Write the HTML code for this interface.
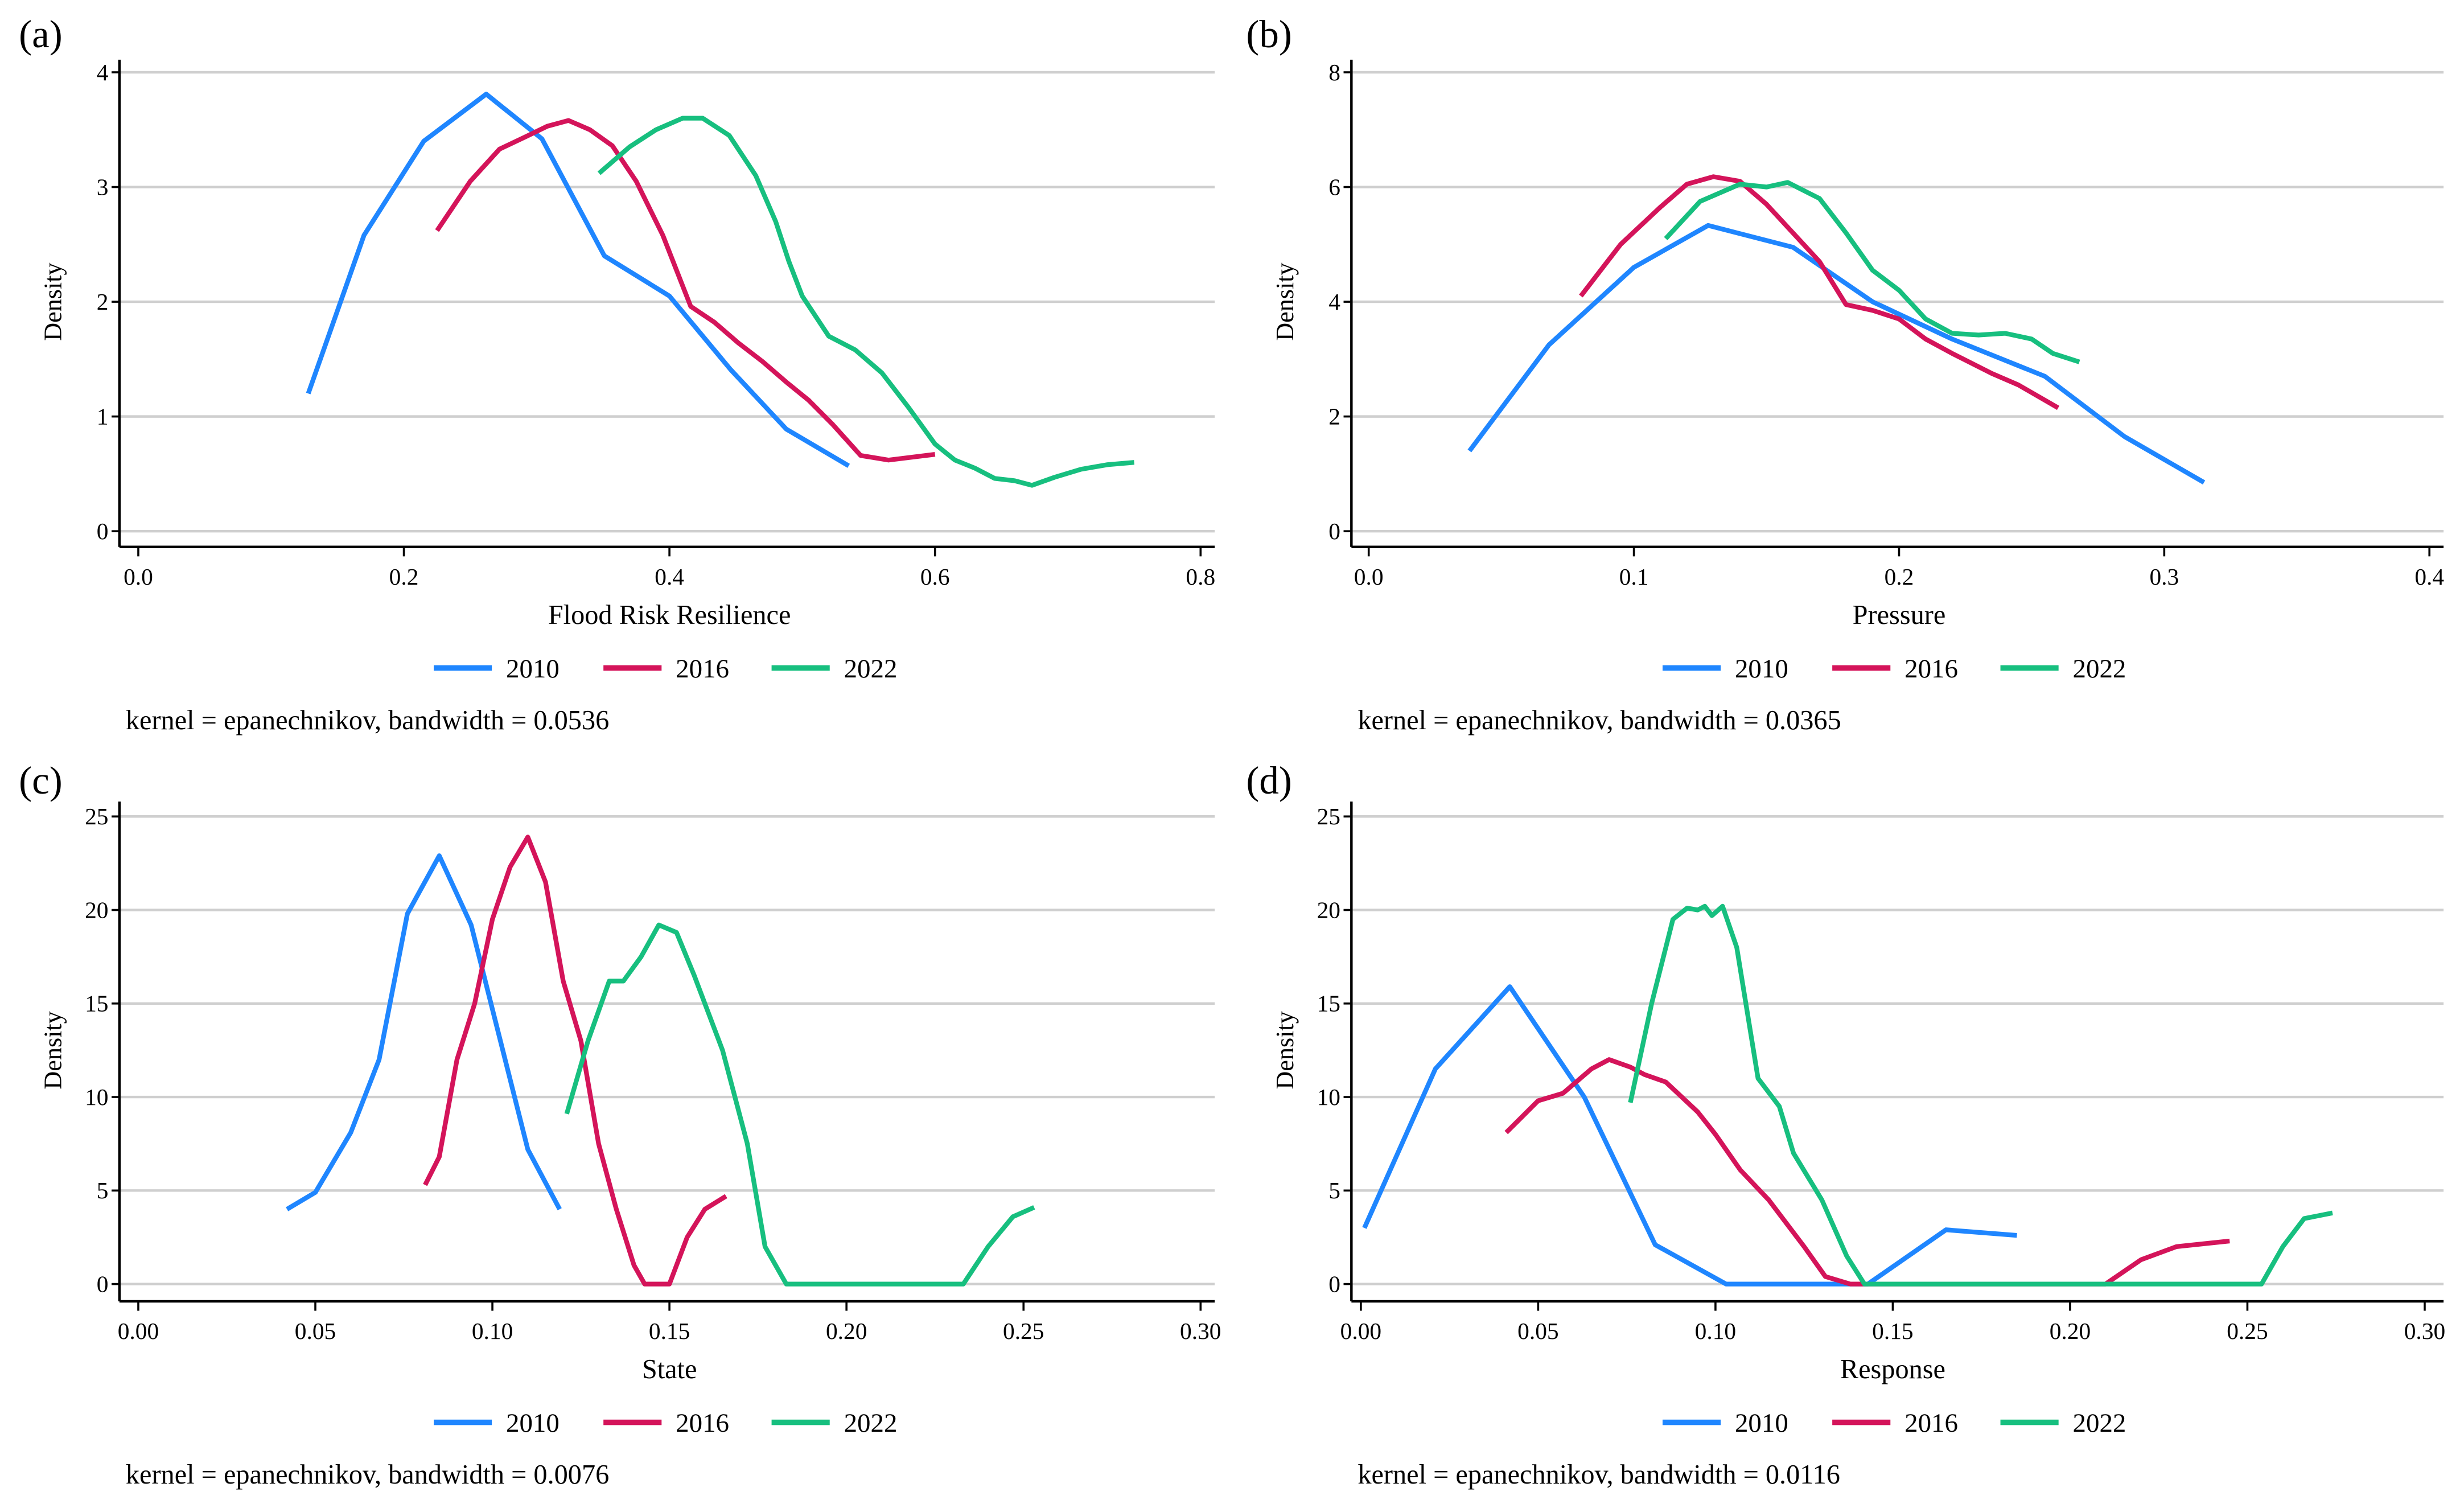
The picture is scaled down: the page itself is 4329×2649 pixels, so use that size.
<!DOCTYPE html>
<html><head><meta charset="utf-8"><style>
html,body{margin:0;padding:0;background:#fff;}
svg{display:block;font-family:"Liberation Serif",serif;}
</style></head><body>
<svg id="fig" width="4329" height="2649" viewBox="0 0 1568 959.5" xmlns="http://www.w3.org/2000/svg"></svg>
<script>
// Panel (a) data
const aX2010=[0.128,0.170,0.215,0.262,0.304,0.351,0.40,0.446,0.488,0.535];
const aY2010=[1.2,2.58,3.4,3.81,3.42,2.4,2.05,1.41,0.89,0.57];
const aX2016=[0.225,0.25,0.272,0.292,0.308,0.324,0.34,0.357,0.375,0.395,0.416,0.434,0.452,0.47,0.488,0.505,0.523,0.544,0.565,0.60];
const aY2016=[2.62,3.05,3.33,3.44,3.53,3.58,3.5,3.36,3.05,2.58,1.96,1.82,1.64,1.48,1.3,1.14,0.93,0.66,0.62,0.67];
const aX2022=[0.347,0.37,0.39,0.41,0.425,0.445,0.465,0.48,0.49,0.50,0.52,0.54,0.56,0.58,0.60,0.615,0.63,0.645,0.66,0.673,0.69,0.71,0.73,0.75];
const aY2022=[3.12,3.35,3.5,3.6,3.6,3.45,3.1,2.7,2.35,2.05,1.7,1.58,1.38,1.08,0.76,0.62,0.55,0.46,0.44,0.4,0.47,0.54,0.58,0.6];
// Panel (b) data
const bX2010=[0.038,0.068,0.10,0.128,0.16,0.19,0.22,0.255,0.285,0.315];
const bY2010=[1.4,3.25,4.6,5.33,4.95,4.0,3.35,2.7,1.65,0.85];
const bX2016=[0.08,0.095,0.11,0.12,0.13,0.14,0.15,0.16,0.17,0.18,0.19,0.20,0.21,0.22,0.235,0.245,0.26];
const bY2016=[4.1,5.0,5.65,6.05,6.18,6.1,5.7,5.2,4.7,3.95,3.85,3.7,3.35,3.1,2.75,2.55,2.15];
const bX2022=[0.112,0.125,0.14,0.15,0.158,0.17,0.18,0.19,0.20,0.21,0.22,0.23,0.24,0.25,0.258,0.268];
const bY2022=[5.1,5.75,6.05,6.0,6.08,5.8,5.2,4.55,4.2,3.7,3.45,3.42,3.45,3.35,3.1,2.95];
// Panel (c) data
const cX2010=[0.042,0.05,0.06,0.068,0.076,0.085,0.094,0.11,0.119];
const cY2010=[4.0,4.9,8.1,12,19.8,22.9,19.2,7.2,4.0];
const cX2016=[0.081,0.085,0.09,0.095,0.10,0.105,0.11,0.115,0.12,0.125,0.13,0.135,0.14,0.143,0.15,0.155,0.16,0.166];
const cY2016=[5.3,6.8,12,15,19.5,22.3,23.9,21.5,16.2,13,7.5,4,1,0,0,2.5,4,4.7];
const cX2022=[0.121,0.127,0.133,0.137,0.142,0.147,0.152,0.157,0.165,0.172,0.177,0.183,0.233,0.24,0.247,0.253];
const cY2022=[9.1,13,16.2,16.2,17.5,19.2,18.8,16.5,12.5,7.5,2,0,0,2,3.6,4.1];
// Panel (d) data
const dX2010=[0.001,0.021,0.042,0.063,0.083,0.103,0.143,0.165,0.185];
const dY2010=[3.0,11.5,15.9,10,2.1,0,0,2.9,2.6];
const dX2016=[0.041,0.05,0.057,0.065,0.07,0.076,0.08,0.086,0.095,0.10,0.107,0.115,0.125,0.131,0.138,0.21,0.22,0.23,0.245];
const dY2016=[8.1,9.8,10.2,11.5,12.0,11.6,11.2,10.8,9.2,8,6.1,4.5,2,0.4,0,0,1.3,2,2.3];
const dX2022=[0.076,0.082,0.088,0.092,0.095,0.097,0.099,0.102,0.106,0.112,0.118,0.122,0.13,0.137,0.142,0.254,0.26,0.266,0.274];
const dY2022=[9.7,15,19.5,20.1,20,20.2,19.7,20.2,18,11,9.5,7,4.5,1.5,0,0,2,3.5,3.8];
const aYTicks=["0","1","2","3","4"], aXTicks=["0.0","0.2","0.4","0.6","0.8"];
const bYTicks=["0","2","4","6","8"], bXTicks=["0.0","0.1","0.2","0.3","0.4"];
const cYTicks=["0","5","10","15","20","25"], cXTicks=["0.00","0.05","0.10","0.15","0.20","0.25","0.30"];
const dYTicks=cYTicks, dXTicks=cXTicks;
const years=["2010","2016","2022"];
const colors=["#1f86ff","#d4145a","#17bf7f"];

const NS="http://www.w3.org/2000/svg";
const svg=document.getElementById('fig');
function mk(tag,attrs,parent,text){const e=document.createElementNS(NS,tag);for(const k in attrs)e.setAttribute(k,attrs[k]);if(text!==undefined)e.textContent=text;(parent||svg).appendChild(e);return e;}

const panels=[
 {id:'a',ox:76,x0:88,x1:764,xt:aXTicks,yt:aYTicks,y0:338,y1:46,gx:773,ay:348,top:38,title:'Flood Risk Resilience',note:'kernel = epanechnikov, bandwidth = 0.0536',series:[[aX2010,aY2010],[aX2016,aY2016],[aX2022,aY2022]],lx:[276,384,491],lab:[12,30]},
 {id:'b',ox:860,x0:871,x1:1546,xt:bXTicks,yt:bYTicks,y0:338,y1:46,gx:1555,ay:348,top:38,title:'Pressure',note:'kernel = epanechnikov, bandwidth = 0.0365',series:[[bX2010,bY2010],[bX2016,bY2016],[bX2022,bY2022]],lx:[1058,1166,1273],lab:[793,30]},
 {id:'c',ox:76,x0:88,x1:764,xt:cXTicks,yt:cYTicks,y0:817,y1:519.5,gx:773,ay:828,top:510,title:'State',note:'kernel = epanechnikov, bandwidth = 0.0076',series:[[cX2010,cY2010],[cX2016,cY2016],[cX2022,cY2022]],lx:[276,384,491],lab:[12,505]},
 {id:'d',ox:860,x0:866,x1:1543,xt:dXTicks,yt:dYTicks,y0:817,y1:519.5,gx:1555,ay:828,top:510,title:'Response',note:'kernel = epanechnikov, bandwidth = 0.0116',series:[[dX2010,dY2010],[dX2016,dY2016],[dX2022,dY2022]],lx:[1058,1166,1273],lab:[793,505]}
];
panels.forEach(p=>{
 const g=mk('g',{});  
 const xmin=parseFloat(p.xt[0]), xmax=parseFloat(p.xt[p.xt.length-1]);
 const ymin=parseFloat(p.yt[0]), ymax=parseFloat(p.yt[p.yt.length-1]);
 const sx=v=>p.x0+(v-xmin)/(xmax-xmin)*(p.x1-p.x0);
 const sy=v=>p.y0+(v-ymin)/(ymax-ymin)*(p.y1-p.y0);
 const lab=mk('text',{x:p.lab[0],y:p.lab[1],'font-size':25},g,'('+p.id+')');
  
 p.yt.forEach(t=>{const y=sy(parseFloat(t));
  const gl=mk('line',{x1:p.ox,x2:p.gx,y1:y,y2:y,stroke:'#cfcfcf','stroke-width':1.6},g);
   
  mk('line',{x1:p.ox-5,x2:p.ox,y1:y,y2:y,stroke:'#000','stroke-width':1.3},g);
  const tl=mk('text',{x:p.ox-7,y:y+5,'font-size':15,'text-anchor':'end'},g,t);
   
 });
 p.xt.forEach(t=>{const x=sx(parseFloat(t));
  mk('line',{x1:x,x2:x,y1:p.ay,y2:p.ay+6,stroke:'#000','stroke-width':1.3},g);
  const tl=mk('text',{x:x,y:p.ay+24,'font-size':15,'text-anchor':'middle'},g,t);
   
 });
 const ya=mk('line',{x1:p.ox,x2:p.ox,y1:p.top,y2:p.ay,stroke:'#000','stroke-width':1.6},g);
  
 const xa=mk('line',{x1:p.ox,x2:p.gx,y1:p.ay,y2:p.ay,stroke:'#000','stroke-width':1.6},g);
  
 const yc=(p.y0+p.y1)/2;
 const yt=mk('text',{x:0,y:0,'font-size':16,'text-anchor':'middle',transform:`translate(${p.ox-37},${yc}) rotate(-90)`},g,'Density');
  
 const xt=mk('text',{x:(p.x0+p.x1)/2,y:p.ay+49,'font-size':17.5,'text-anchor':'middle'},g,p.title);
  
 p.series.forEach((s,i)=>{
  const d=s[0].map((v,k)=>(k?'L':'M')+sx(v).toFixed(2)+','+sy(s[1][k]).toFixed(2)).join(' ');
  const pa=mk('path',{d:d,fill:'none',stroke:colors[i],'stroke-width':3,'stroke-linejoin':'round'},g);
   
  const ly=p.ay+77;
  const ll=mk('line',{x1:p.lx[i],x2:p.lx[i]+37,y1:ly,y2:ly,stroke:colors[i],'stroke-width':3.5},g);
   
  const lt=mk('text',{x:p.lx[i]+46,y:ly+6,'font-size':17},g,years[i]);
   
 });
 const nt=mk('text',{x:p.ox+4,y:p.ay+116,'font-size':17.5},g,p.note);
  
});
</script>
</body></html>
